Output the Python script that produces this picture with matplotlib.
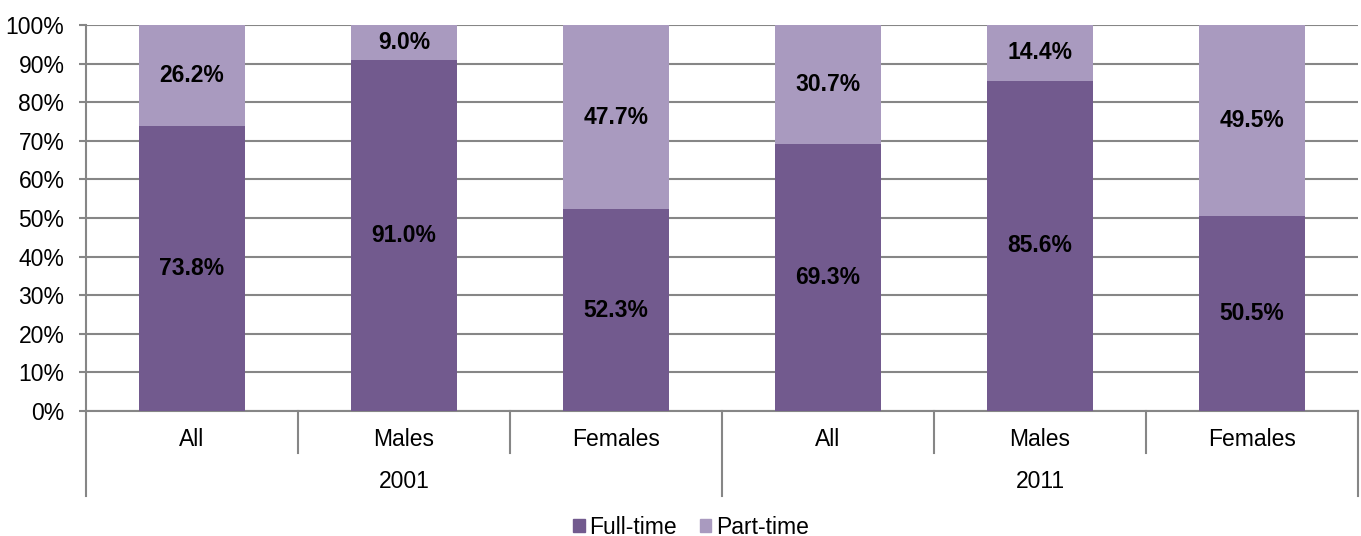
import matplotlib
matplotlib.use("Agg")
import matplotlib.pyplot as plt
from matplotlib.patches import Patch

plt.rcParams['font.family'] = ['Liberation Sans', 'DejaVu Sans']

categories = ["All", "Males", "Females", "All", "Males", "Females"]
years = ["2001", "2011"]
full_time = [73.8, 91.0, 52.3, 69.3, 85.6, 50.5]
part_time = [26.2, 9.0, 47.7, 30.7, 14.4, 49.5]

c_full = "#725a8e"
c_part = "#a99abf"
grid_c = "#868686"
fs = 16.5

fig = plt.figure(figsize=(13.61, 5.36), dpi=100)
ax = fig.add_axes([86 / 1361, 1 - 411 / 536, (1358 - 86) / 1361, (411 - 25) / 536])

x = [i + 0.5 for i in range(len(categories))]
ax.bar(x, full_time, width=0.5, color=c_full, zorder=3, label="Full-time")
ax.bar(x, part_time, width=0.5, bottom=full_time, color=c_part, zorder=3, label="Part-time")

for xi, f, p in zip(x, full_time, part_time):
    ax.text(xi, f / 2, f"{f:.1f}%", ha="center", va="center", fontsize=fs,
            fontweight="bold", zorder=4)
    ax.text(xi, f + p / 2, f"{p:.1f}%", ha="center", va="center", fontsize=fs,
            fontweight="bold", zorder=4)

ax.set_xlim(0, 6)
ax.set_ylim(0, 100)
ax.set_yticks(range(0, 101, 10))
ax.set_yticklabels([f"{v}%" for v in range(0, 101, 10)], fontsize=fs)
ax.yaxis.grid(True, color=grid_c, linewidth=1.5, zorder=0)
ax.set_axisbelow(True)
ax.tick_params(axis="y", length=5, width=1.5, color=grid_c, pad=10.5)
ax.set_xticks([])
for s in ("top", "right"):
    ax.spines[s].set_visible(False)
for s in ("left", "bottom"):
    ax.spines[s].set_color(grid_c)
    ax.spines[s].set_linewidth(1.5)

# two-level category axis drawn below the plot area
h_px = 411 - 25
short = -(453 - 411) / h_px
long_ = -(496 - 411) / h_px
tr = ax.get_xaxis_transform()
for b in range(0, 7):
    y_end = long_ if b % 3 == 0 else short
    ax.plot([b, b], [0, y_end], transform=tr, color=grid_c, lw=1.5, clip_on=False)
for xi, c in zip(x, categories):
    ax.text(xi, -(440 - 411) / h_px, c, transform=tr, ha="center", va="center", fontsize=fs)
for gi, yr in enumerate(years):
    ax.text(gi * 3 + 1.5, -(482 - 411) / h_px, yr, transform=tr, ha="center",
            va="center", fontsize=fs)

handles = [Patch(color=c_full, label="Full-time"), Patch(color=c_part, label="Part-time")]
fig.legend(handles=handles, loc="center", bbox_to_anchor=(691 / 1361, 1 - 527 / 536),
           ncol=2, frameon=False, fontsize=fs, handlelength=0.5, handleheight=0.5,
           handletextpad=0.2, columnspacing=1.0)

fig.savefig("out.png", dpi=100)
